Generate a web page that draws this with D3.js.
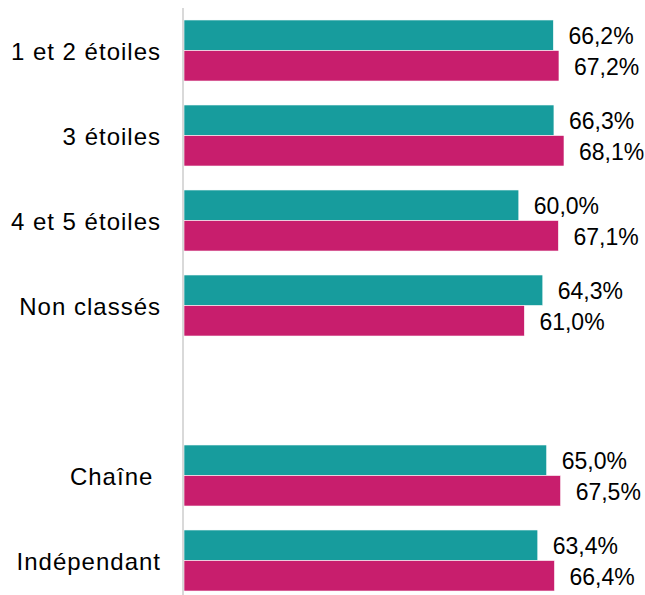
<!DOCTYPE html>
<html lang="fr">
<head>
  <meta charset="UTF-8">
  <title>Taux par catégorie</title>
  <script src="https://d3js.org/d3.v7.min.js"></script>
  <style>
    body { margin: 0; background: #fff; }
    svg { display: block; }
    text { font-family: "Liberation Sans", Arial, sans-serif; fill: #000; }
  </style>
</head>
<body>
  <svg id="chart" width="645" height="595"></svg>
  <script>
    // categories ("" = empty slot between the two groups)
    const categories = ["1 et 2 étoiles", "3 étoiles", "4 et 5 étoiles", "Non classés", "", "Chaîne ", "Indépendant"];
    const series = ["serie1", "serie2"];
    const serie1 = [66.2, 66.3, 60.0, 64.3, null, 65.0, 63.4];
    const serie2 = [67.2, 68.1, 67.1, 61.0, null, 67.5, 66.4];
    const colors = { serie1: "#179c9d", serie2: "#c81e6d" };

    const svg = d3.select("#chart");

    const rows = categories.map((c, i) => ({ cat: c, key: "row" + i, serie1: serie1[i], serie2: serie2[i] }));

    const x = d3.scaleLinear().domain([0, 100]).range([184, 742]);
    const y = d3.scaleBand().domain(rows.map(d => d.key)).range([8, 603])
      .paddingInner(0.282).paddingOuter(0.141);
    const ySub = d3.scaleBand().domain(series).range([0, y.bandwidth()]);

    const fmt = v => v.toFixed(1).replace(".", ",") + "%";

    // bars
    const groups = svg.append("g").selectAll("g")
      .data(rows.filter(d => d.serie1 !== null))
      .join("g")
      .attr("transform", d => `translate(0,${y(d.key)})`);

    groups.selectAll("rect")
      .data(d => series.map(s => ({ s, v: d[s] })))
      .join("rect")
      .attr("x", x(0))
      .attr("y", d => ySub(d.s))
      .attr("width", d => x(d.v) - x(0))
      .attr("height", ySub.bandwidth())
      .attr("fill", d => colors[d.s])
      .attr("stroke", "#fff")
      .attr("stroke-width", 0.6);

    groups.selectAll("text")
      .data(d => series.map(s => ({ s, v: d[s] })))
      .join("text")
      .attr("x", d => x(d.v) + 15)
      .attr("y", d => ySub(d.s) + ySub.bandwidth() / 2 + 1)
      .attr("dy", "0.35em")
      .style("font-size", "23px")
      .text(d => fmt(d.v));

    // category axis
    svg.append("line")
      .attr("x1", 183).attr("x2", 183)
      .attr("y1", 8).attr("y2", 595)
      .attr("stroke", "#d9d9d9")
      .attr("stroke-width", 2);

    svg.append("g").selectAll("text")
      .data(rows.filter(d => d.cat !== ""))
      .join("text")
      .attr("x", 161)
      .attr("y", d => y(d.key) + y.bandwidth() / 2 + 1)
      .attr("dy", "0.35em")
      .attr("text-anchor", "end")
      .style("font-size", "24px")
      .style("letter-spacing", "1px")
      .style("white-space", "pre")
      .text(d => d.cat);
  </script>
</body>
</html>
